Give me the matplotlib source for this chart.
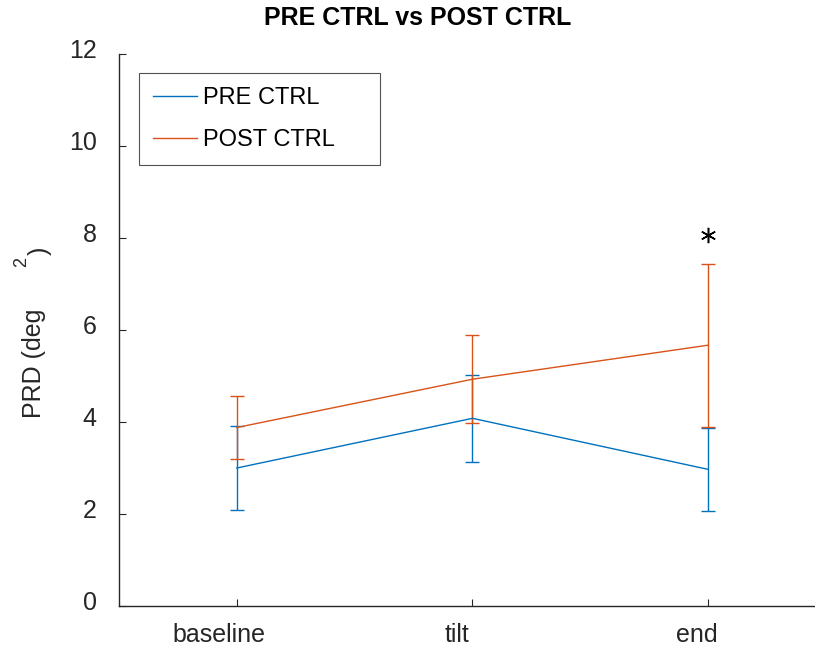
import matplotlib
matplotlib.use('Agg')
import matplotlib.pyplot as plt
import matplotlib.transforms as mtransforms
from matplotlib.lines import Line2D

# data
conditions = ['baseline', 'tilt', 'end']
pre_mean = [3.00, 4.08, 2.97]
pre_err = [0.92, 0.95, 0.91]
post_mean = [3.88, 4.93, 5.67]
post_err = [0.69, 0.96, 1.77]
sig_idx = [2]          # condition with the asterisk
sig_y = [8.07]

blue = '#0072BD'
orange = '#D95319'
axcol = '#262626'

plt.rcParams['font.family'] = ['Liberation Sans', 'DejaVu Sans']

fig = plt.figure(figsize=(8.15, 6.46), dpi=100)
W, H = 815, 646
ax = fig.add_axes([119 / W, 40 / H, (815 - 119) / W, (606 - 54) / H])

x = [i + 1 for i in range(len(conditions))]
ax.errorbar(x, pre_mean, yerr=pre_err, color=blue, lw=1.0, elinewidth=1.0,
            capsize=5, capthick=1.0)
ax.errorbar(x, post_mean, yerr=post_err, color=orange, lw=1.0, elinewidth=1.0,
            capsize=5, capthick=1.0)
ax.plot([x[i] for i in sig_idx], sig_y, linestyle='none', marker=(6, 2, 0),
        markersize=11, markeredgewidth=1.1, color='black')

ax.set_xlim(0.5, 1 + (815 - 236) / 236)
ax.set_ylim(0, 12)
ax.set_yticks([0, 2, 4, 6, 8, 10, 12])
ax.set_xticks(x)
ax.set_xticklabels(conditions)

for s in ['top', 'right']:
    ax.spines[s].set_visible(False)
for s in ['left', 'bottom']:
    ax.spines[s].set_color(axcol)
    ax.spines[s].set_linewidth(1.0)
ax.tick_params(direction='in', length=5, width=0.8, color=axcol,
               labelcolor=axcol, labelsize=18)
ax.tick_params(axis='x', pad=12)
ax.tick_params(axis='y', pad=16)

# MATLAB-style label placement quirks (pixel nudges)
for lab, dx in zip(ax.get_xticklabels(), [-18, -15, -11]):
    lab.set_transform(lab.get_transform() +
                      mtransforms.ScaledTranslation(dx / 100, 0, fig.dpi_scale_trans))
for lab in ax.get_yticklabels():
    lab.set_transform(lab.get_transform() +
                      mtransforms.ScaledTranslation(0, 6 / 100, fig.dpi_scale_trans))

# y label, drawn in pieces like the reference
fig.text(34 / W, 1 - 418 / H, 'PRD (deg', rotation=90, ha='center', va='bottom',
         fontsize=18, color=axcol)
fig.text(22 / W, 1 - 262 / H, '2', rotation=90, ha='center', va='center',
         fontsize=13, color=axcol)
fig.text(40 / W, 1 - 251 / H, ')', rotation=90, ha='center', va='center',
         fontsize=18, color=axcol)

fig.text(418 / W, 1 - 18 / H, 'PRE CTRL vs POST CTRL', ha='center', va='center',
         fontsize=18, fontweight='bold', color='black')

handles = [Line2D([], [], color=blue, lw=1.0), Line2D([], [], color=orange, lw=1.0)]
leg = ax.legend(handles, ['PRE CTRL', 'POST CTRL'], loc='upper left',
                bbox_to_anchor=((139 - 119) / 696, (606 - 73) / 552, 241 / 696, 0.0),
                mode='expand', fontsize=17, frameon=True, fancybox=False,
                borderaxespad=0, handlelength=1.85, handletextpad=0.25,
                labelspacing=0.85, borderpad=0.6)
leg.get_frame().set_edgecolor(axcol)
leg.get_frame().set_linewidth(0.8)

fig.savefig('out.png', dpi=100)
